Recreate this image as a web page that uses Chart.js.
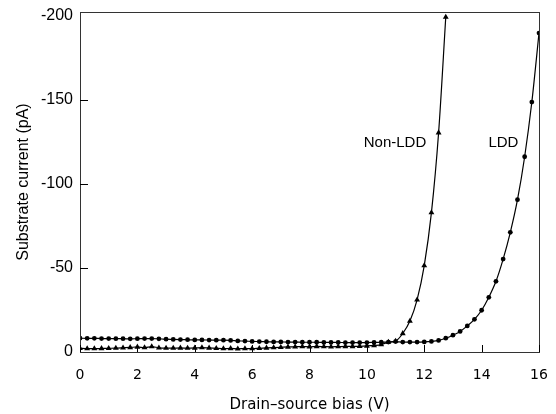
<!DOCTYPE html>
<html>
<head>
<meta charset="utf-8">
<script src="https://cdn.jsdelivr.net/npm/chart.js@4"></script>
<style>
  html, body { margin: 0; padding: 0; background: #fff; }
  #wrap { width: 556px; height: 414px; }
</style>
</head>
<body>
<div id="wrap"><canvas id="chart" width="556" height="414"></canvas></div>
<script>
// drain-source bias (V)
const biasLDD = [0, 0.25, 0.5, 0.75, 1, 1.25, 1.5, 1.75, 2, 2.25, 2.5, 2.75, 3, 3.25, 3.5, 3.75,
  4, 4.25, 4.5, 4.75, 5, 5.25, 5.5, 5.75, 6, 6.25, 6.5, 6.75, 7, 7.25, 7.5, 7.75,
  8, 8.25, 8.5, 8.75, 9, 9.25, 9.5, 9.75, 10, 10.25, 10.5, 10.75, 11, 11.25, 11.5, 11.75,
  12, 12.25, 12.5, 12.75, 13, 13.25, 13.5, 13.75, 14, 14.25, 14.5, 14.75, 15, 15.25, 15.5, 15.75, 16];
const biasNonLDD = [0, 0.25, 0.5, 0.75, 1, 1.25, 1.5, 1.75, 2, 2.25, 2.5, 2.75, 3, 3.25, 3.5, 3.75,
  4, 4.25, 4.5, 4.75, 5, 5.25, 5.5, 5.75, 6, 6.25, 6.5, 6.75, 7, 7.25, 7.5, 7.75,
  8, 8.25, 8.5, 8.75, 9, 9.25, 9.5, 9.75, 10, 10.25, 10.5, 10.75, 11, 11.25, 11.5, 11.75,
  12, 12.25, 12.5, 12.75];

// substrate current (pA)
const currentLDD = [-8.2, -8.1, -8.1, -8.0, -8.0, -7.9, -7.9, -7.8, -7.9, -8.0, -8.0, -7.8, -7.6, -7.5, -7.4, -7.3,
  -7.2, -7.2, -7.1, -7.0, -7.0, -6.9, -6.6, -6.5, -6.3, -6.2, -6.1, -6.0, -6.0, -5.9, -5.9, -5.8,
  -5.8, -5.8, -5.7, -5.7, -5.7, -5.6, -5.6, -5.6, -5.6, -5.7, -5.8, -5.9, -6.2, -5.9, -5.9, -5.9,
  -6.0, -6.3, -6.9, -8.2, -10, -12.2, -15.5, -19.4, -24.8, -32.5, -42, -55.2, -71.1, -90.5, -116, -148.5, -189.5];
const currentNonLDD = [-2.2, -2.0, -2.0, -2.1, -2.2, -2.3, -2.5, -2.7, -3.0, -2.6, -3.2, -2.5, -2.3, -2.3, -2.4, -2.3,
  -2.4, -2.6, -2.4, -2.2, -2.0, -2.1, -1.9, -2.0, -2.0, -2.2, -2.4, -2.6, -2.8, -3.0, -3.1, -3.2,
  -3.1, -3.3, -3.2, -3.1, -3.2, -3.3, -3.3, -3.4, -3.6, -3.9, -4.4, -5.9, -6.5, -11, -18.4, -31,
  -51.3, -82.8, -130.3, -199];

const xTicks = [0, 2, 4, 6, 8, 10, 12, 14, 16];
const yTicks = [0, -50, -100, -150, -200];

// curve labels, in data units
const curveLabels = [
  { text: 'Non-LDD', x: 10.98, y: -124 },
  { text: 'LDD', x: 14.76, y: -124 }
];

const toPoints = (xs, ys) => xs.map((x, i) => ({ x: x, y: ys[i] }));

const frame = {
  id: 'frame',
  afterDraw(chart) {
    const ctx = chart.ctx;
    const a = chart.chartArea;
    const xs = chart.scales.x, ys = chart.scales.y;
    ctx.save();
    ctx.strokeStyle = '#333';
    ctx.lineWidth = 1;
    ctx.strokeRect(Math.round(a.left) + 0.5, Math.round(a.top) + 0.5,
      Math.round(a.right - a.left), Math.round(a.bottom - a.top));
    // inward tick marks
    ctx.strokeStyle = '#000';
    ctx.beginPath();
    xTicks.forEach(v => {
      const px = Math.round(xs.getPixelForValue(v)) + 0.5;
      ctx.moveTo(px, a.bottom);
      ctx.lineTo(px, a.bottom - 7);
    });
    yTicks.slice(1, -1).forEach(v => {
      const py = Math.round(ys.getPixelForValue(v)) + 0.5;
      ctx.moveTo(a.left, py);
      ctx.lineTo(a.left + 8, py);
    });
    ctx.stroke();
    // curve labels
    ctx.fillStyle = '#000';
    ctx.font = '15px "Liberation Sans", Arial, sans-serif';
    ctx.textAlign = 'center';
    ctx.textBaseline = 'middle';
    curveLabels.forEach(l => {
      ctx.fillText(l.text, xs.getPixelForValue(l.x), ys.getPixelForValue(l.y));
    });
    ctx.restore();
  }
};

new Chart(document.getElementById('chart'), {
  type: 'line',
  data: {
    datasets: [
      {
        label: 'LDD',
        data: toPoints(biasLDD, currentLDD),
        borderColor: '#000',
        backgroundColor: '#000',
        borderWidth: 1.2,
        pointStyle: 'circle',
        pointRadius: 2.4,
        pointBorderWidth: 0,
        cubicInterpolationMode: 'monotone',
        fill: false
      },
      {
        label: 'Non-LDD',
        data: toPoints(biasNonLDD, currentNonLDD),
        borderColor: '#000',
        backgroundColor: '#000',
        borderWidth: 1.2,
        pointStyle: 'triangle',
        pointRadius: 3.4,
        pointBorderWidth: 0,
        cubicInterpolationMode: 'monotone',
        fill: false
      }
    ]
  },
  options: {
    responsive: false,
    animation: false,
    layout: { padding: { left: 0, right: 17, top: 12, bottom: 0 } },
    plugins: { legend: { display: false }, tooltip: { enabled: false } },
    scales: {
      x: {
        type: 'linear',
        min: 0,
        max: 16,
        afterFit(scale) {
          scale.height = 62;
          scale.paddingLeft = 0;
          scale.paddingRight = 0;
        },
        afterBuildTicks(scale) { scale.ticks = xTicks.map(v => ({ value: v })); },
        grid: { display: false, drawTicks: false },
        border: { display: true, color: '#000', width: 1 },
        ticks: {
          padding: 15,
          color: '#000',
          font: { family: '"DejaVu Sans", sans-serif', size: 14 },
          callback: v => String(v)
        },
        title: {
          display: true,
          text: 'Drain–source bias (V)',
          color: '#000',
          font: { family: '"DejaVu Sans", sans-serif', size: 15 },
          padding: { top: 0, bottom: 0 }
        }
      },
      y: {
        type: 'linear',
        min: -202,
        max: 0,
        reverse: true,
        afterFit(scale) {
          scale.width = 80;
          scale.paddingTop = 0;
          scale.paddingBottom = 0;
        },
        afterBuildTicks(scale) { scale.ticks = yTicks.map(v => ({ value: v })); },
        grid: { display: false, drawTicks: false },
        border: { display: true, color: '#000', width: 1 },
        ticks: {
          padding: 7,
          color: '#000',
          font: { family: '"Liberation Sans", Arial, sans-serif', size: 16 },
          callback: v => String(v)
        },
        title: {
          display: true,
          text: 'Substrate current (pA)',
          color: '#000',
          font: { family: '"Liberation Sans", Arial, sans-serif', size: 16 },
          padding: { top: 14, bottom: 0 }
        }
      }
    }
  },
  plugins: [frame]
});
</script>
</body>
</html>
